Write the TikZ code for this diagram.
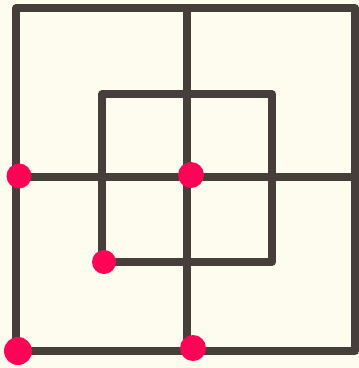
\documentclass[tikz,border=0pt]{standalone}
\usepackage{tikz}
\usetikzlibrary{positioning}
\definecolor{paper}{HTML}{FEFCEF}
\definecolor{ink}{HTML}{463E3A}
\definecolor{pin}{HTML}{FF0356}

\begin{document}
\begin{tikzpicture}[
  x=1pt, y=-1pt,
  wire/.style={draw=ink, line width=7.5pt, line cap=round, line join=round},
  pinmark/.style={circle, fill=pin, inner sep=0pt, minimum size=#1},
  ]
  \fill[paper] (0,0) rectangle (359,368);
  \useasboundingbox (0,0) rectangle (359,368);

  % outer square and cross
  \coordinate (tl) at (16,8);
  \coordinate (tr) at (355,8);
  \coordinate (br) at (355,351);
  \coordinate (bl) at (16,351);
  \coordinate (mt) at (187,8);
  \coordinate (mb) at (187,351);
  \coordinate (ml) at (16,177);
  \coordinate (mr) at (355,177);
  % inner square
  \coordinate (itl) at (102,94);
  \coordinate (itr) at (272,94);
  \coordinate (ibr) at (272,262);
  \coordinate (ibl) at (102,262);

  \draw[wire] (tl) -- (tr) -- (br) -- (bl) -- cycle;
  \draw[wire] (mt) -- (mb);
  \draw[wire] (ml) -- (mr);
  \draw[wire] (itl) -- (itr) -- (ibr) -- (ibl) -- cycle;

  \node[pinmark=25pt] (pleft) at (19,176) {};
  \node[pinmark=26pt] (pmid) at (191,175) {};
  \node[pinmark=24pt] (pin) at (104,262) {};
  \node[pinmark=28pt] (pcorner) at (18,351) {};
  \node[pinmark=26pt] (pbottom) at (193,348) {};
\end{tikzpicture}
\end{document}
